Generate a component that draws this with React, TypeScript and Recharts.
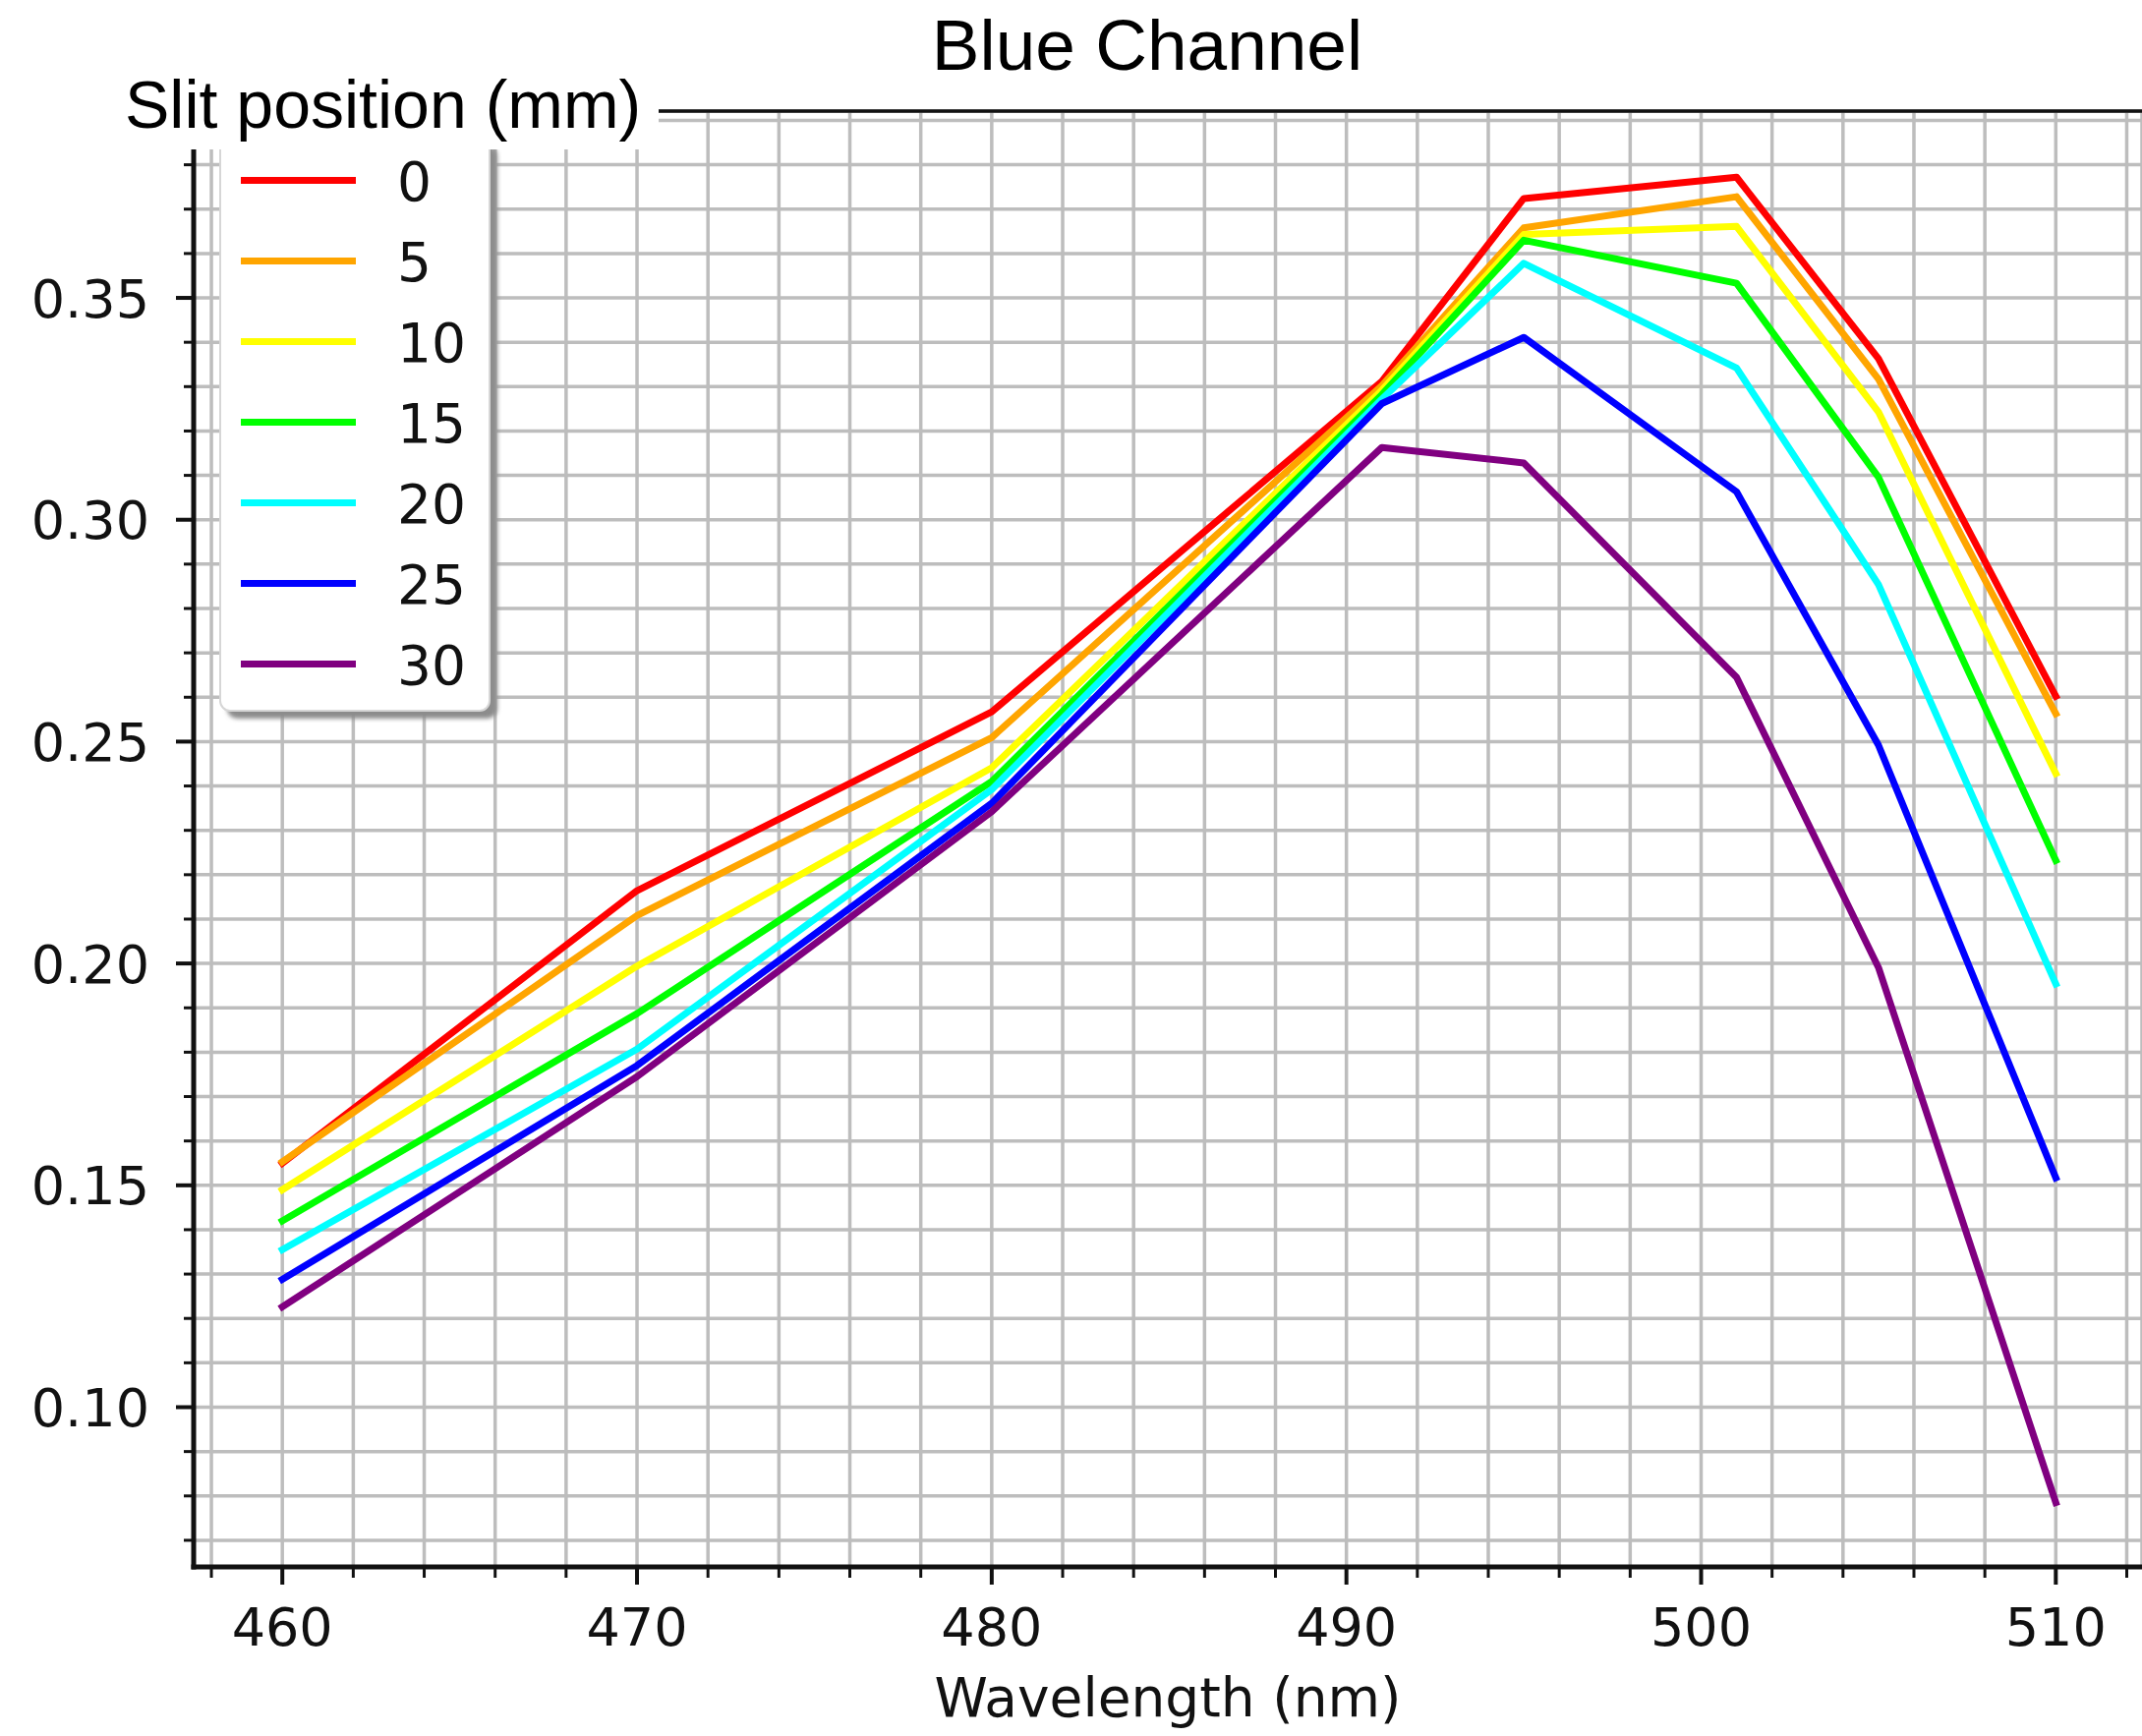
// Blue channel response vs wavelength, one line per slit position.
import { CartesianGrid, Line, LineChart, ReferenceLine, XAxis, YAxis } from 'recharts'

const WAVELENGTHS = [460, 470, 480, 491, 495, 501, 505, 510]

const SLIT_0 = [0.155, 0.2164, 0.2567, 0.3312, 0.3724, 0.3772, 0.3363, 0.2602]
const SLIT_5 = [0.1553, 0.2108, 0.2509, 0.3302, 0.3658, 0.3728, 0.3317, 0.2563]
const SLIT_10 = [0.149, 0.1994, 0.2441, 0.3292, 0.3643, 0.3661, 0.3243, 0.2428]
const SLIT_15 = [0.142, 0.1887, 0.241, 0.3282, 0.363, 0.3533, 0.3096, 0.2232]
const SLIT_20 = [0.1355, 0.1807, 0.2392, 0.3272, 0.3578, 0.3342, 0.2854, 0.1954]
const SLIT_25 = [0.1288, 0.177, 0.2361, 0.3262, 0.3411, 0.3063, 0.2492, 0.1517]
const SLIT_30 = [0.1226, 0.1745, 0.2342, 0.3163, 0.3128, 0.2645, 0.1991, 0.0785]

const SLIT_LABELS = ['0', '5', '10', '15', '20', '25', '30']
const SLIT_COLORS = ['#ff0000', '#ffa500', '#ffff00', '#00ff00', '#00ffff', '#0000ff', '#800080']
const SLIT_SERIES = [SLIT_0, SLIT_5, SLIT_10, SLIT_15, SLIT_20, SLIT_25, SLIT_30]

// every 2 nm (minor), labelled every 10 nm
const X_TICKS = [
  458, 460, 462, 464, 466, 468, 470, 472, 474, 476, 478, 480, 482, 484,
  486, 488, 490, 492, 494, 496, 498, 500, 502, 504, 506, 508, 510, 512,
]
// every 0.01 (minor), labelled every 0.05
const Y_TICKS = [
  0.07, 0.08, 0.09, 0.1, 0.11, 0.12, 0.13, 0.14, 0.15, 0.16, 0.17, 0.18,
  0.19, 0.2, 0.21, 0.22, 0.23, 0.24, 0.25, 0.26, 0.27, 0.28, 0.29, 0.3,
  0.31, 0.32, 0.33, 0.34, 0.35, 0.36, 0.37, 0.38, 0.39,
]

const X_DOMAIN: [number, number] = [457.5, 512.43]
const Y_DOMAIN: [number, number] = [0.064, 0.3921]

const W = 2179
const H = 1766
const MPL_FONT = '"DejaVu Sans", sans-serif'
const HEAD_FONT = '"Liberation Sans", Arial, sans-serif'
const INK = '#111'
const TICK_FS = 54
const LINE_W = 7

const rows = WAVELENGTHS.map((wl, i) => {
  const row: Record<string, number> = { wl }
  SLIT_SERIES.forEach((s, k) => {
    row[`s${k}`] = s[i]
  })
  return row
})

function XTick(props: any) {
  const { x, y, payload } = props
  const v = payload.value as number
  const major = v % 10 === 0
  return (
    <g>
      <line x1={x} x2={x} y1={y} y2={y + (major ? 18 : 11)} stroke={INK} strokeWidth={major ? 4 : 3} />
      {major && (
        <text x={x} y={y + 80} textAnchor="middle" fontFamily={MPL_FONT} fontSize={TICK_FS} fill={INK}>
          {v}
        </text>
      )}
    </g>
  )
}

function YTick(props: any) {
  const { x, y, payload } = props
  const v = payload.value as number
  const major = Math.round(v * 100) % 5 === 0
  return (
    <g>
      <line x1={x} x2={x - (major ? 18 : 10)} y1={y} y2={y} stroke={INK} strokeWidth={major ? 4 : 3} />
      {major && (
        <text x={x - 45} y={y + 19.5} textAnchor="end" fontFamily={MPL_FONT} fontSize={TICK_FS} fill={INK}>
          {v.toFixed(2)}
        </text>
      )}
    </g>
  )
}

function LegendOverlay() {
  const rowY = (i: number) => 183.5 + i * 82
  return (
    <svg width={W} height={H} style={{ position: 'absolute', left: 0, top: 0, pointerEvents: 'none' }}>
      <defs>
        <filter id="legend-shadow" x="-10%" y="-10%" width="130%" height="130%">
          <feGaussianBlur stdDeviation="2" />
        </filter>
      </defs>
      {/* legend frame + shadow */}
      <rect x={231} y={148} width={275} height={583} rx={10} fill="#8c8c8c" filter="url(#legend-shadow)" />
      <rect x={224} y={140} width={274} height={583} rx={10} fill="#fff" stroke="#d6d6d6" strokeWidth={2} />
      {SLIT_LABELS.map((label, i) => (
        <g key={label}>
          <line x1={245} x2={362} y1={rowY(i)} y2={rowY(i)} stroke={SLIT_COLORS[i]} strokeWidth={LINE_W} />
          <text x={404} y={rowY(i) + 20} fontFamily={MPL_FONT} fontSize={55} fill={INK}>
            {label}
          </text>
        </g>
      ))}
      {/* legend title sits on its own white patch, over the spines */}
      <rect x={118} y={58} width={552} height={94} fill="#fff" />
      <text x={127} y={130} fontFamily={HEAD_FONT} fontSize={68} fill="#000">
        Slit position (mm)
      </text>
      <text x={1167} y={71} textAnchor="middle" fontFamily={HEAD_FONT} fontSize={73} fill="#000">
        Blue Channel
      </text>
      <text x={1188} y={1746} textAnchor="middle" fontFamily={MPL_FONT} fontSize={55} fill={INK}>
        Wavelength (nm)
      </text>
    </svg>
  )
}

export default function App() {
  return (
    <div
      style={{
        position: 'absolute',
        left: 0,
        top: 0,
        width: W,
        height: H,
        overflow: 'hidden',
        background: '#fff',
      }}
    >
      <LineChart width={W} height={H} data={rows} margin={{ top: 113, right: 0, bottom: 0, left: 0 }}>
        <CartesianGrid stroke="#bdbdbd" strokeWidth={3.5} />
        <XAxis
          type="number"
          dataKey="wl"
          domain={X_DOMAIN}
          allowDataOverflow
          ticks={X_TICKS}
          interval={0}
          height={172}
          tickSize={0}
          tickMargin={0}
          tickLine={false}
          axisLine={{ stroke: INK, strokeWidth: 5, strokeLinecap: 'square' }}
          tick={XTick}
        />
        <YAxis
          type="number"
          domain={Y_DOMAIN}
          allowDataOverflow
          ticks={Y_TICKS}
          interval={0}
          width={197}
          tickSize={0}
          tickMargin={0}
          tickLine={false}
          axisLine={{ stroke: INK, strokeWidth: 5, strokeLinecap: 'square' }}
          tick={YTick}
        />
        <ReferenceLine y={Y_DOMAIN[1]} stroke={INK} strokeWidth={3.5} />
        {SLIT_LABELS.map((label, k) => (
          <Line
            key={label}
            type="linear"
            dataKey={`s${k}`}
            name={label}
            stroke={SLIT_COLORS[k]}
            strokeWidth={LINE_W}
            strokeLinejoin="round"
            strokeLinecap="square"
            dot={false}
            activeDot={false}
            isAnimationActive={false}
          />
        ))}
      </LineChart>
      <LegendOverlay />
    </div>
  )
}
